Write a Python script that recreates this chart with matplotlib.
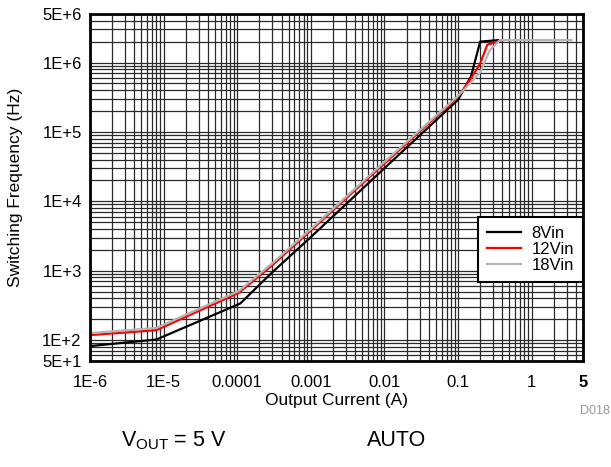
import matplotlib
matplotlib.use('Agg')
import matplotlib.pyplot as plt
import numpy as np

plt.rcParams['font.family'] = ['Liberation Sans', 'DejaVu Sans']

# Output current (A) and switching frequency (Hz) per input voltage
i_8v = [1e-6, 8e-6, 1.1e-4, 3e-4, 1e-3, 1e-2, 0.1, 0.15, 0.2, 0.35]
f_8v = [82, 102, 337, 950, 3050, 30000, 2.9e5, 6.3e5, 2.0e6, 2.1e6]

i_12v = [1e-6, 8e-6, 1.05e-4, 3e-4, 1e-3, 1e-2, 0.1, 0.15, 0.2, 0.25, 0.4]
f_12v = [118, 139, 480, 1200, 3800, 35000, 3.2e5, 5.9e5, 9.7e5, 1.8e6, 2.1e6]

i_18v = [1e-6, 8e-6, 1.05e-4, 3e-4, 1e-3, 1e-2, 0.1, 0.15, 0.2, 0.27, 0.37, 3.5]
f_18v = [126, 150, 510, 1280, 4000, 37000, 3.3e5, 5.2e5, 7.2e5, 1.5e6, 2.1e6, 2.1e6]

series_names = ['8Vin', '12Vin', '18Vin']
series_colors = ['black', 'red', '#b4b4b4']

x_ticks = [1e-6, 1e-5, 1e-4, 1e-3, 1e-2, 0.1, 1, 5]
x_labels = ['1E-6', '1E-5', '0.0001', '0.001', '0.01', '0.1', '1', '5']
y_ticks = [50, 1e2, 1e3, 1e4, 1e5, 1e6, 5e6]
y_labels = ['5E+1', '1E+2', '1E+3', '1E+4', '1E+5', '1E+6', '5E+6']

fig = plt.figure(figsize=(6.11, 4.67), dpi=100)
ax = fig.add_axes([0.1473, 0.227, 0.807, 0.743])

for xs, ys, name, col in zip([i_8v, i_12v, i_18v], [f_8v, f_12v, f_18v],
                             series_names, series_colors):
    ax.plot(xs, ys, color=col, lw=1.6, label=name, solid_joinstyle='round')

ax.set_xscale('log')
ax.set_yscale('log')
ax.set_xlim(1e-6, 5)
ax.set_ylim(50, 5e6)

ax.set_xticks(x_ticks)
ax.set_xticklabels(x_labels)
ax.set_yticks(y_ticks)
ax.set_yticklabels(y_labels)
ax.xaxis.set_minor_locator(matplotlib.ticker.LogLocator(base=10, subs=np.arange(2, 10)))
ax.yaxis.set_minor_locator(matplotlib.ticker.LogLocator(base=10, subs=np.arange(2, 10)))
ax.xaxis.set_minor_formatter(matplotlib.ticker.NullFormatter())
ax.yaxis.set_minor_formatter(matplotlib.ticker.NullFormatter())
ax.tick_params(which='both', length=0, labelsize=12)
ax.tick_params(axis='x', pad=10)
ax.tick_params(axis='y', pad=6)
ax.get_xticklabels()[-1].set_fontweight('bold')

ax.grid(which='both', color='#2a2a2a', lw=0.9)
ax.set_axisbelow(True)
for sp in ax.spines.values():
    sp.set_linewidth(2)

ax.set_xlabel('Output Current (A)', fontsize=12.5, labelpad=2)
ax.set_ylabel('Switching Frequency (Hz)', fontsize=12.5, labelpad=14)

leg = ax.legend(loc='lower right', bbox_to_anchor=(1.0, 0.2277), fontsize=12,
                fancybox=False, framealpha=1, edgecolor='black',
                handlelength=2.05, handletextpad=0.6, borderaxespad=0,
                labelspacing=0.05, borderpad=0.55)
leg.get_frame().set_linewidth(1.5)

fig.text(595 / 611, 1 - 411 / 467, 'D018', color='#999999', fontsize=9,
         ha='center', va='center')
fig.text(174 / 611, 1 - 441 / 467, r'V$_{\mathregular{OUT}}$ = 5 V', fontsize=15.5,
         ha='center', va='center')
fig.text(397 / 611, 1 - 441 / 467, 'AUTO', fontsize=15.5, ha='center', va='center')

fig.savefig('out.png', dpi=100)
